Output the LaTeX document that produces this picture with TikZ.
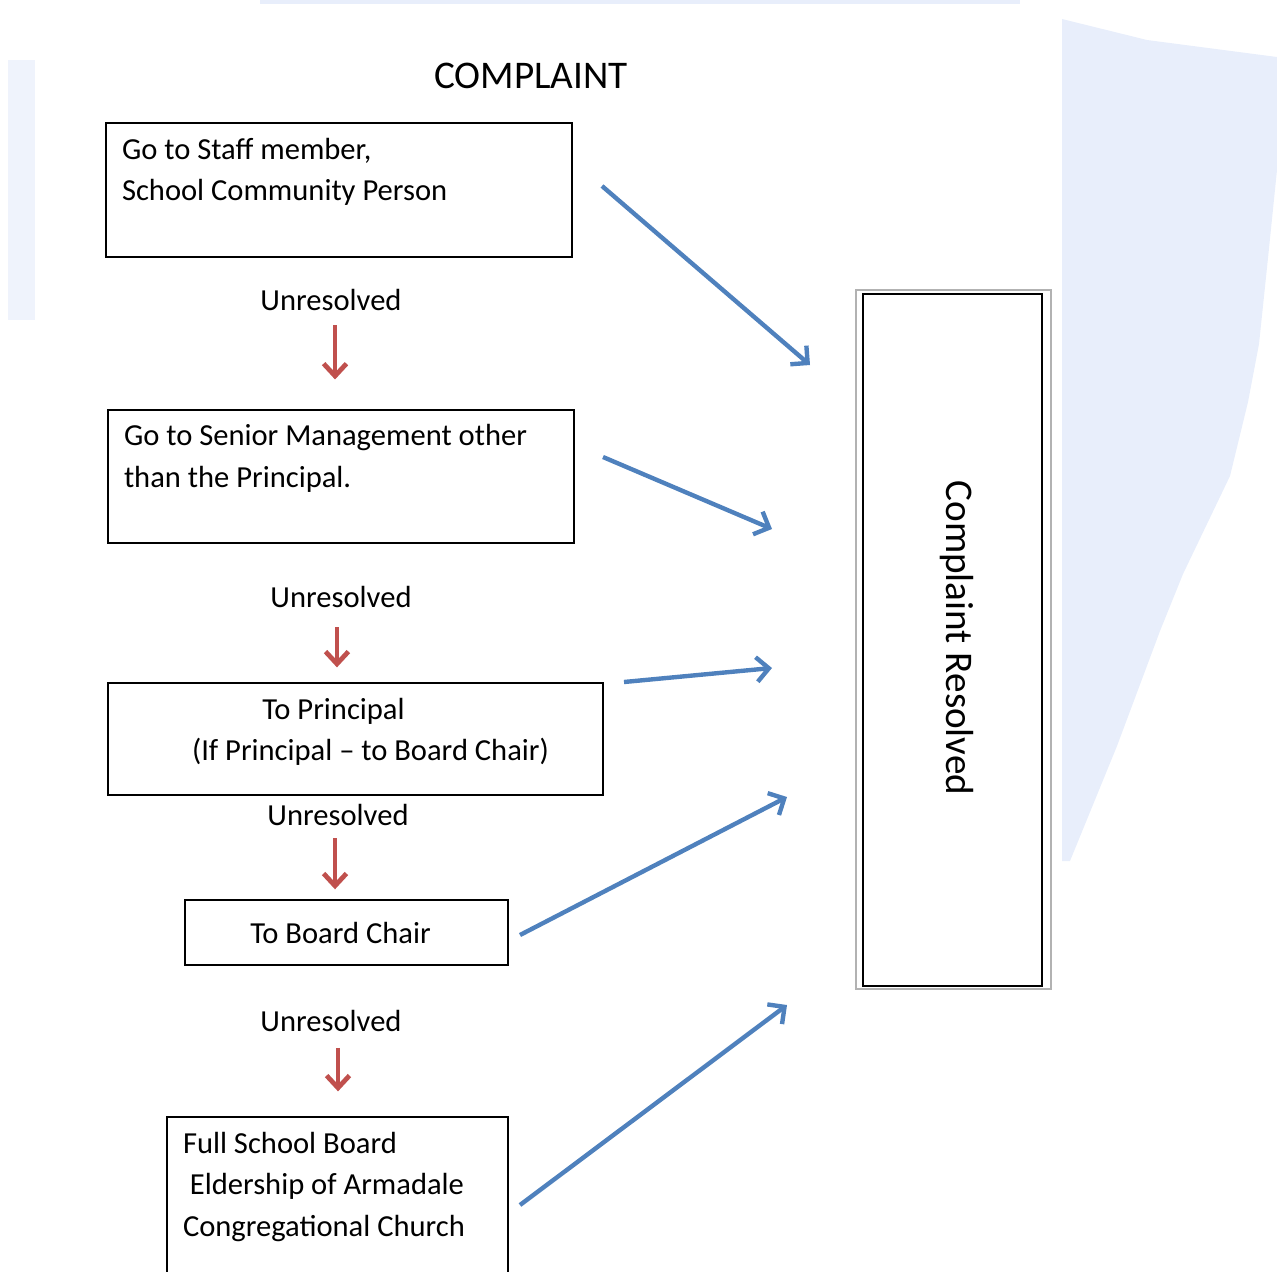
\documentclass[tikz,border=0pt]{standalone}
\usepackage{fontspec}
\setmainfont{Carlito}
\usetikzlibrary{arrows.meta}

\definecolor{arrowblue}{HTML}{4F81BD}
\definecolor{arrowred}{HTML}{C0504D}
\definecolor{markblue}{HTML}{E8EEFB}
\newlength{\px}
\setlength{\px}{0.02cm}
\newcommand{\bodysize}{\fontsize{17.4}{23.6}\selectfont}
\newcommand{\headsize}{\fontsize{22.3}{27}\selectfont}

\tikzset{
  stepbox/.style={draw, line width=0.8pt, inner xsep=16\px, inner ysep=0pt, font=\bodysize},
  unres/.style={inner sep=0pt, font=\bodysize},
  downarrow/.style={arrowred, line width=2.7pt, -{Straight Barb[length=7pt,width=13pt]}},
  sidearrow/.style={arrowblue, line width=2.5pt, -{Straight Barb[length=7pt,width=14pt]}},
}

\begin{document}
\begin{tikzpicture}[x=0.02cm,y=-0.02cm]
  \useasboundingbox (0,0) rectangle (1277,1271);
  \clip (0,0) rectangle (1277,1271);

  % faint watermark behind the chart
  \fill[markblue] (1062,19) -- (1147,40) -- (1277,57) -- (1277,170) -- (1268,258)
    -- (1259,344) -- (1248,402) -- (1230,476) -- (1183,574) -- (1160,631)
    -- (1117,746) -- (1070,861) -- (1062,861) -- cycle;
  \fill[markblue!70] (8,60) rectangle (35,320);
  \fill[markblue] (260,0) rectangle (1020,4);

  \node[font=\headsize] (title) at (531,76) {COMPLAINT};

  % the steps
  \node[stepbox, align=flush left, text width=434\px, minimum height=134\px] (staff) at (339,190)
    {Go to Staff member,\\School Community Person\\~};
  \node[stepbox, align=flush left, text width=434\px, minimum height=133\px] (senior) at (341,476.5)
    {Go to Senior Management other\\than the Principal.\\~};
  \node[stepbox, align=flush center, text width=463\px, minimum height=112\px] (principal) at (355.5,739)
    {To Principal\hspace*{44\px}\mbox{}\\\mbox{}\hspace*{30\px}(If Principal – to Board Chair)\\[-12.8pt]~};
  \node[stepbox, align=flush center, text width=291\px, minimum height=65\px] (boardchair) at (346.5,932.5)
    {To Board Chair\hspace*{12\px}\mbox{}};
  \node[stepbox, align=flush left, text width=309\px, minimum height=176\px] (fullboard) at (337.5,1205)
    {Full School Board\\~Eldership of Armadale\\Congregational Church\\~};

  % end box
  \node[draw=gray!60, line width=0.8pt, minimum width=195\px, minimum height=699\px] (resolvedframe) at (953.5,639.5) {};
  \node[draw, line width=1.1pt, minimum width=179\px, minimum height=692\px] (resolved) at (952.5,640) {};
  \node[rotate=-90, font=\headsize] (resolvedtext) at (957,638) {Complaint Resolved};

  % unresolved steps
  \node[unres] (u1) at (331,300) {Unresolved};
  \node[unres] (u2) at (341,597) {Unresolved};
  \node[unres] (u3) at (338,815) {Unresolved};
  \node[unres] (u4) at (331,1021) {Unresolved};

  \draw[downarrow, shorten <=8pt, shorten >=17pt] ([xshift=2.3pt]u1.south) -- ([xshift=2.3pt]u1.south |- senior.north);
  \draw[downarrow, shorten <=10.8pt, shorten >=8.5pt] ([xshift=-2.3pt]u2.south) -- ([xshift=-2.3pt]u2.south |- principal.north);
  \draw[downarrow, shorten <=6.8pt, shorten >=5.7pt] ([xshift=-1.7pt]u3.south) -- ([xshift=-1.7pt]u3.south |- boardchair.north);
  \draw[downarrow, shorten <=9pt, shorten >=14.2pt] ([xshift=4pt]u4.south) -- ([xshift=4pt]u4.south |- fullboard.north);

  % resolved at any step
  \coordinate (from1) at (602,186);
  \coordinate (to1) at (810,365);
  \coordinate (from2) at (603,457);
  \coordinate (to2) at (772,529);
  \coordinate (from3) at (624,682);
  \coordinate (to3) at (772,668);
  \coordinate (from4) at (520,935);
  \coordinate (to4) at (787,797);
  \coordinate (from5) at (520,1205);
  \coordinate (to5) at (787,1005);
  \draw[sidearrow] (from1) -- (to1);
  \draw[sidearrow] (from2) -- (to2);
  \draw[sidearrow] (from3) -- (to3);
  \draw[sidearrow] (from4) -- (to4);
  \draw[sidearrow] (from5) -- (to5);
\end{tikzpicture}
\end{document}
